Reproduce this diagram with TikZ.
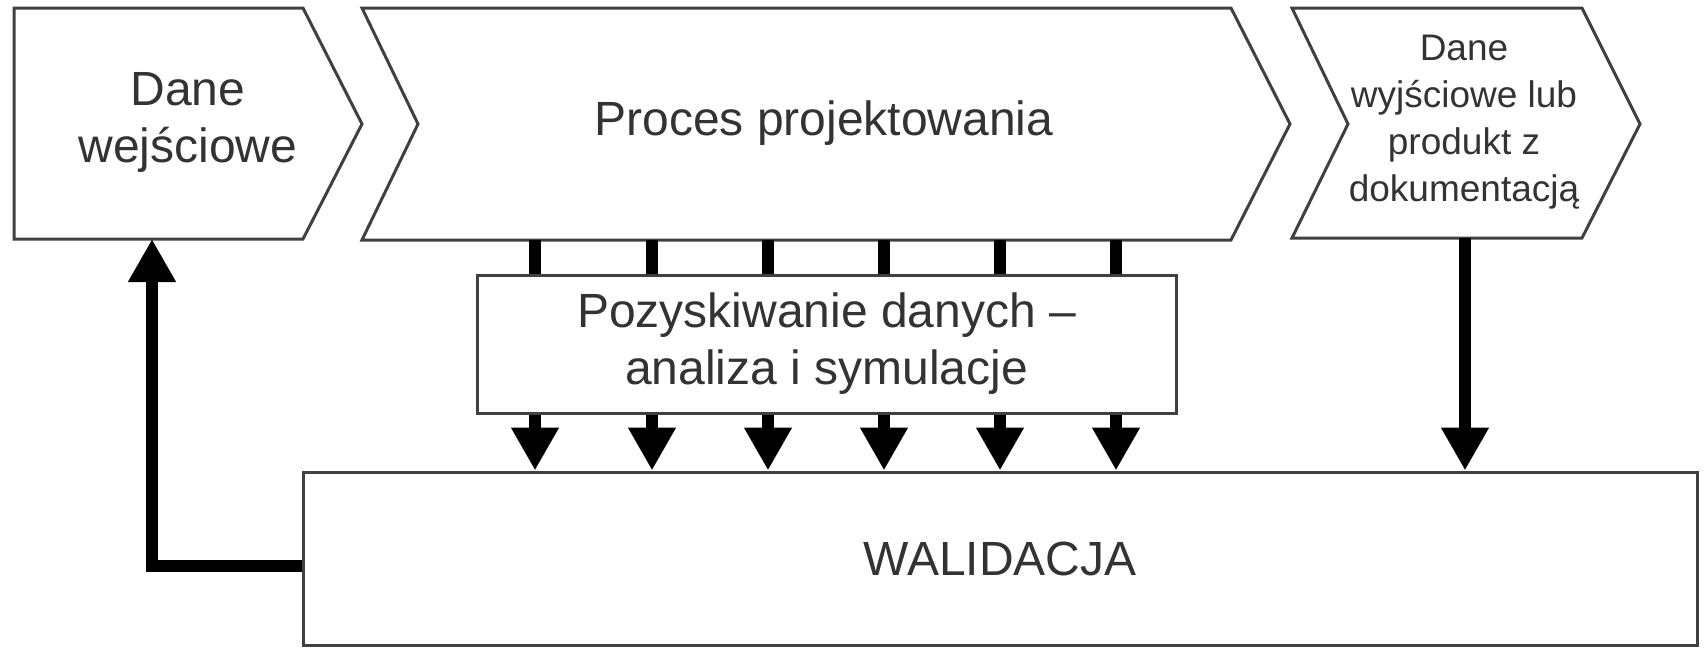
\documentclass[tikz,border=0pt]{standalone}
\usepackage{fontspec}
\setmainfont{Liberation Sans}
\usetikzlibrary{arrows.meta,positioning}
\tikzstyle{chev} = [draw=black!75, line width=1.5pt, line join=miter]
\tikzstyle{block} = [draw=black!75, line width=1.5pt, inner sep=0pt, text=black!80, font=\fontsize{24}{28.5}\selectfont, align=center]
\tikzstyle{txt} = [text=black!80, font=\fontsize{24}{28.5}\selectfont, align=center]
\tikzstyle{small} = [text=black!80, font=\fontsize{18.5}{23.5}\selectfont, align=center]
\tikzstyle{bar} = [line width=6pt, black]
\tikzstyle{arrow} = [line width=6pt, black, -{Triangle[width=22.5pt,length=21.5pt]}]
\begin{document}
\begin{tikzpicture}[x=0.5pt,y=-0.5pt]
      \useasboundingbox (0,0) rectangle (1704,648);
      % chevrons
      \draw[chev] (14,8) -- (303,8) -- (362,124) -- (303,239) -- (14,239) -- cycle;
      \node[txt] (din) at (188,122) {Dane\\wejściowe};
      \draw[chev] (362,8) -- (1231,8) -- (1290,124) -- (1231,240) -- (362,240) -- (418,124) -- cycle;
      \node[txt] (proc) at (824,123) {Proces projektowania};
      \draw[chev] (1292,8) -- (1582,8) -- (1640,124) -- (1582,238) -- (1292,238) -- (1348,124) -- cycle;
      \node[small] (dout) at (1464,122) {Dane\\wyjściowe lub\\produkt z\\dokumentacją};
      \coordinate (dinb) at (152,239);
      \coordinate (doutb) at (1465,238);
      % boxes
      \node[block, minimum width=697pt, minimum height=86.5pt] (val) at (1000,558.5) {WALIDACJA};
      \node[block, fill=white, minimum width=349.5pt, minimum height=69pt] (poz) at (826.5,344) {Pozyskiwanie danych –\\analiza i symulacje};
      % arrows
      \foreach \x [count=\i] in {535,652,768,884,1000,1116} {
        \coordinate (p\i) at (\x,240);
        \draw[bar] (p\i) -- (p\i |- poz.north);
        \draw[arrow] (p\i |- poz.south) -- (p\i |- val.north);
      }
      \draw[arrow] (doutb) -- (doutb |- val.north);
      \draw[arrow] ([yshift=-3.5pt]val.west) -| (dinb);
\end{tikzpicture}
\end{document}
